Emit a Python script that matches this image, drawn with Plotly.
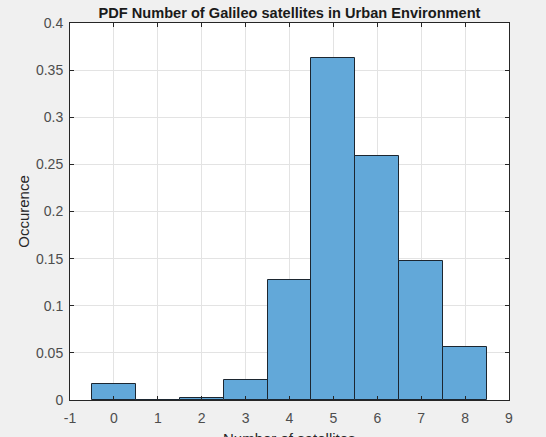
import plotly.graph_objects as go

categories = [0, 1, 2, 3, 4, 5, 6, 7, 8]
occurrence = [0.0175, 0.0, 0.0018, 0.0212, 0.1274, 0.3634, 0.2593, 0.1479, 0.0562]
x_ticks = [-1, 0, 1, 2, 3, 4, 5, 6, 7, 8, 9]
x_tick_labels = ["-1", "0", "1", "2", "3", "4", "5", "6", "7", "8", "9"]
y_ticks = [0, 0.05, 0.1, 0.15, 0.2, 0.25, 0.3, 0.35, 0.4]
y_tick_labels = ["0", "0.05", "0.1", "0.15", "0.2", "0.25", "0.3", "0.35", "0.4"]

FONT = "Liberation Sans, Arial, Helvetica"
PLOT_H = 437 - 23 - 37

fig = go.Figure()
fig.add_trace(go.Bar(
    x=categories, y=occurrence, width=1,
    marker=dict(color="#62a8d9", line=dict(color="#1c2630", width=1)),
    showlegend=False,
))

axis_common = dict(
    showline=True, linecolor="#262626", linewidth=1, mirror="ticks",
    ticks="inside", ticklen=4, tickcolor="#262626",
    showgrid=True, gridcolor="#e3e3e3", gridwidth=1,
    zeroline=False, automargin=False,
    tickfont=dict(family=FONT, size=14, color="#4d4d4d"),
)

fig.update_layout(
    width=546, height=437,
    margin=dict(l=70, r=37, t=23, b=37, autoexpand=False),
    paper_bgcolor="#f0f0f0", plot_bgcolor="#ffffff",
    title=dict(text="<b>PDF Number of Galileo satellites in Urban Environment</b>",
               x=0.5, xanchor="center", xref="paper", y=1 - 12.5/437, yanchor="middle",
               automargin=False,
               font=dict(family=FONT, size=14.6, color="#1a1a1a")),
    bargap=0,
    xaxis=dict(range=[-1, 9], tickvals=x_ticks, ticktext=x_tick_labels,
               ticklabelstandoff=5, **axis_common),
    yaxis=dict(range=[0, 0.4], tickvals=y_ticks, ticktext=y_tick_labels,
               ticklabelstandoff=3,
               title=dict(text="Occurence", standoff=2,
                          font=dict(family=FONT, size=15, color="#262626")),
               **axis_common),
    annotations=[dict(text="Number of satellites", xref="paper", yref="paper",
                      x=0.5, y=-28/PLOT_H, xanchor="center", yanchor="top",
                      showarrow=False,
                      font=dict(family=FONT, size=15, color="#262626"))],
)

fig.write_html("out.html",
               config={"displayModeBar": False},
               post_script="document.body.style.margin='0';document.body.style.background='#f0f0f0';")
